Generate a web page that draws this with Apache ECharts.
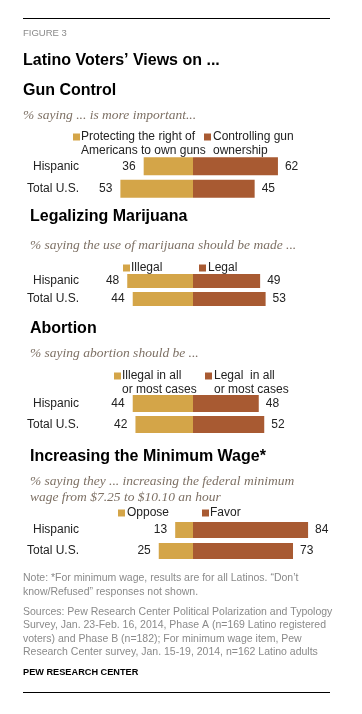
<!DOCTYPE html>
<html><head><meta charset="utf-8">
<script src="https://cdn.jsdelivr.net/npm/echarts@6/dist/echarts.min.js"></script>
<style>html,body{margin:0;padding:0;background:#fff}#c{width:362px;height:714px}</style>
</head><body><div id="c"></div>
<script>
var categories = ['Hispanic', 'Total U.S.'];
var gunProtect = [36, 53];
var gunControl = [62, 45];
var marijuanaIllegal = [48, 44];
var marijuanaLegal = [49, 53];
var abortionIllegal = [44, 42];
var abortionLegal = [48, 52];
var wageOppose = [13, 25];
var wageFavor = [84, 73];

var GOLD = '#D4A548', RUST = '#A85A32';
var SANS = 'Liberation Sans, Arial, sans-serif';
var chart = echarts.init(document.getElementById('c'), null, {renderer: 'canvas'});

var panels = [
  {left: gunProtect, right: gunControl, top: 155, height: 45, bw: 18},
  {left: marijuanaIllegal, right: marijuanaLegal, top: 272, height: 36, bw: 14},
  {left: abortionIllegal, right: abortionLegal, top: 393, height: 42, bw: 17},
  {left: wageOppose, right: wageFavor, top: 519.5, height: 42, bw: 16}
];

var grids = [], xAxes = [], yAxes = [], series = [];
panels.forEach(function (p, i) {
  grids.push({left: 56, width: 274, top: p.top, height: p.height});
  xAxes.push({type: 'value', gridIndex: i, min: -100, max: 100, show: false});
  yAxes.push({type: 'category', gridIndex: i, data: categories, inverse: true,
    axisLine: {show: false}, axisTick: {show: false}, splitLine: {show: false},
    axisLabel: {margin: -23, align: 'right', color: '#222', fontSize: 12, fontFamily: SANS}});
  series.push({type: 'bar', xAxisIndex: i, yAxisIndex: i, barWidth: p.bw, barGap: '-100%',
    data: p.left.map(function (v) { return -v; }), itemStyle: {color: GOLD},
    label: {show: true, position: 'left', distance: 8, color: '#222', fontSize: 12, fontFamily: SANS,
      formatter: function (d) { return Math.abs(d.value); }}, silent: true});
  series.push({type: 'bar', xAxisIndex: i, yAxisIndex: i, barWidth: p.bw, barGap: '-100%',
    data: p.right, itemStyle: {color: RUST},
    label: {show: true, position: 'right', distance: 7, color: '#222', fontSize: 12, fontFamily: SANS}, silent: true});
});

function txt(x, y, s, font, fill, lh) {
  return {type: 'text', x: x, y: y, silent: true,
    style: {text: s, font: font, fill: fill, textAlign: 'left', textVerticalAlign: 'middle',
      align: 'left', verticalAlign: 'middle', lineHeight: lh || 14}};
}
function sq(x, y, c) {
  return {type: 'rect', silent: true, shape: {x: x, y: y - 3.5, width: 7, height: 7}, style: {fill: c}};
}
function line(y) {
  return {type: 'line', silent: true, shape: {x1: 23, y1: y, x2: 330, y2: y}, style: {stroke: '#000', lineWidth: 1}};
}
var TITLE = 'bold 16px ' + SANS;
var SUB = 'italic 13.5px Liberation Serif, serif';
var SUBC = '#7d7064';
var LEG = '12px ' + SANS;
var NOTE = '10.5px ' + SANS;
var NOTEC = '#8a8a8a';

var graphics = [
  line(18.5),
  txt(23, 33, 'FIGURE 3', '9.5px ' + SANS, '#8a8a8a'),
  txt(23, 61, 'Latino Voters’ Views on ...', TITLE, '#000'),
  txt(23, 91, 'Gun Control', TITLE, '#000'),
  txt(23, 115, '% saying ... is more important...', SUB, SUBC),
  sq(73, 137, GOLD), txt(81, 144, 'Protecting the right of\nAmericans to own guns', LEG, '#222', 14),
  sq(204, 137, RUST), txt(213, 144, 'Controlling gun\nownership', LEG, '#222', 14),

  txt(30, 217, 'Legalizing Marijuana', TITLE, '#000'),
  txt(30, 245, '% saying the use of marijuana should be made ...', SUB, SUBC),
  sq(123, 268, GOLD), txt(131, 268, 'Illegal', LEG, '#222'),
  sq(199, 268, RUST), txt(208, 268, 'Legal', LEG, '#222'),

  txt(30, 329, 'Abortion', TITLE, '#000'),
  txt(30, 353, '% saying abortion should be ...', SUB, SUBC),
  sq(114, 376, GOLD), txt(122, 383, 'Illegal in all\nor most cases', LEG, '#222', 14),
  sq(205, 376, RUST), txt(214, 383, 'Legal  in all\nor most cases', LEG, '#222', 14),

  txt(30, 457, 'Increasing the Minimum Wage*', TITLE, '#000'),
  txt(30, 489, '% saying they ... increasing the federal minimum\nwage from $7.25 to $10.10 an hour', SUB, SUBC, 16),
  sq(118, 513, GOLD), txt(127, 513, 'Oppose', LEG, '#222'),
  sq(202, 513, RUST), txt(210, 513, 'Favor', LEG, '#222'),

  txt(23, 585, 'Note: *For minimum wage, results are for all Latinos. “Don’t\nknow/Refused” responses not shown.', NOTE, NOTEC, 13.5),
  txt(23, 632, 'Sources: Pew Research Center Political Polarization and Typology\nSurvey, Jan. 23-Feb. 16, 2014, Phase A (n=169 Latino registered\nvoters) and Phase B (n=182); For minimum wage item, Pew\nResearch Center survey, Jan. 15-19, 2014, n=162 Latino adults', NOTE, NOTEC, 13.3),
  txt(23, 672, 'PEW RESEARCH CENTER', 'bold 9.2px ' + SANS, '#000'),
  line(692.5)
];

chart.setOption({
  animation: false,
  grid: grids, xAxis: xAxes, yAxis: yAxes, series: series,
  graphic: graphics
});
</script></body></html>
